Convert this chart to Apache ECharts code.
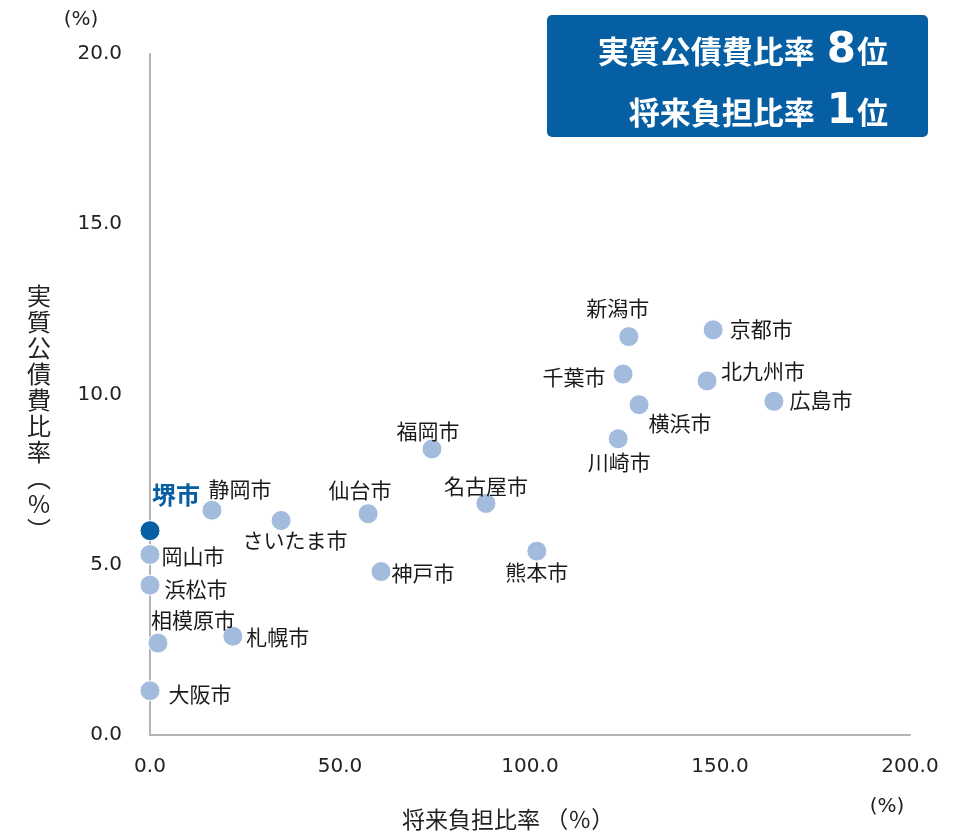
<!DOCTYPE html>
<html>
<head>
<meta charset="utf-8">
<script src="https://cdn.jsdelivr.net/npm/echarts@6/dist/echarts.min.js"></script>
<style>
  html, body { margin: 0; padding: 0; background: #fff; }
  #chart { width: 955px; height: 834px; }
</style>
</head>
<body>
<div id="chart"></div>
<script>
// 都市名・将来負担比率(x)・実質公債費比率(y)
const cities = ['堺市', '岡山市', '浜松市', '相模原市', '大阪市', '静岡市', '札幌市', 'さいたま市', '仙台市', '神戸市',
  '福岡市', '名古屋市', '熊本市', '川崎市', '千葉市', '新潟市', '横浜市', '北九州市', '京都市', '広島市']
const futureBurden = [0.0, 0.0, 0.0, 2.1, 0.0, 16.3, 21.8, 34.5, 57.4, 60.8,
  74.2, 88.4, 101.8, 123.2, 124.5, 126.0, 128.7, 146.6, 148.2, 164.2]
const debtService = [6.0, 5.3, 4.4, 2.7, 1.3, 6.6, 2.9, 6.3, 6.5, 4.8,
  8.4, 6.8, 5.4, 8.7, 10.6, 11.7, 9.7, 10.4, 11.9, 9.8]

const xTicks = [0, 50, 100, 150, 200]
const yTicks = [0, 5, 10, 15, 20]

// ラベルのずらし量 (点の中心から)
const labelOffset = {
  '堺市': [26, -36], '岡山市': [43, 1], '浜松市': [46, 4], '相模原市': [35, -23], '大阪市': [50, 3],
  '静岡市': [28, -21], '札幌市': [45, 1], 'さいたま市': [14, 20], '仙台市': [-8, -24], '神戸市': [42, 1],
  '福岡市': [-4, -18], '名古屋市': [0, -17], '熊本市': [0, 21], '川崎市': [1, 23], '千葉市': [-49, 3],
  '新潟市': [-11, -29], '横浜市': [41, 18], '北九州市': [56, -10], '京都市': [48, -1], '広島市': [47, -1]
}

const FONT = '"Noto Sans CJK JP", "Noto Sans", sans-serif'
const NUM_FONT = '"DejaVu Sans", sans-serif'
const HL = '#065fa3'

const points = cities.map((name, i) => {
  const isSakai = name === '堺市'
  return {
    name,
    value: [futureBurden[i], debtService[i]],
    itemStyle: { color: isSakai ? HL : '#a3bcdd' },
    label: {
      offset: labelOffset[name],
      color: isSakai ? HL : '#1a1a1a',
      fontSize: isSakai ? 24 : 21,
      fontWeight: isSakai ? 'bold' : 'normal'
    }
  }
})

const boxRich = {
  a: { fontFamily: FONT, fontSize: 31, fontWeight: 'bold', fill: '#fff' },
  b: { fontFamily: NUM_FONT, fontSize: 42, fontWeight: 'bold', fill: '#fff', padding: [0, 1, 0, 12] }
}

const chart = echarts.init(document.getElementById('chart'))
chart.setOption({
  animation: false,
  textStyle: { fontFamily: FONT },
  grid: { left: 150, right: 45, top: 54, bottom: 99 },
  xAxis: {
    type: 'value', min: 0, max: 200, interval: 50,
    axisLine: { show: true, lineStyle: { color: '#b4b4b4', width: 2 } },
    axisTick: { show: false },
    splitLine: { show: false },
    axisLabel: {
      margin: 22, fontSize: 20, color: '#222', fontFamily: NUM_FONT,
      formatter: (v) => xTicks.includes(v) ? v.toFixed(1) : ''
    }
  },
  yAxis: {
    type: 'value', min: 0, max: 20, interval: 5,
    axisLine: { show: true, lineStyle: { color: '#b4b4b4', width: 2 } },
    axisTick: { show: false },
    splitLine: { show: false },
    axisLabel: {
      margin: 28, fontSize: 20, color: '#222', fontFamily: NUM_FONT,
      formatter: (v) => yTicks.includes(v) ? v.toFixed(1) : ''
    }
  },
  series: [{
    type: 'scatter',
    symbolSize: 20,
    itemStyle: { borderColor: '#fff', borderWidth: 1, opacity: 1 },
    label: {
      show: true,
      position: 'inside',
      align: 'center',
      verticalAlign: 'middle',
      fontFamily: FONT,
      formatter: (p) => p.name
    },
    emphasis: { disabled: true },
    data: points
  }],
  graphic: [
    { type: 'text', x: 81, y: 20, style: { text: '(%)', font: '20px ' + NUM_FONT, fill: '#222', align: 'center', verticalAlign: 'middle' } },
    { type: 'text', x: 887, y: 807, style: { text: '(%)', font: '20px ' + NUM_FONT, fill: '#222', align: 'center', verticalAlign: 'middle' } },
    {
      type: 'text', x: 402, y: 819,
      style: { text: '将来負担比率 （％）', font: '23px ' + FONT, fill: '#222', align: 'left', verticalAlign: 'middle' }
    },
    {
      type: 'text', x: 39, y: 283,
      style: {
        text: '実\n質\n公\n債\n費\n比\n率\n︵\n%\n︶',
        font: '24px ' + FONT, fill: '#222', align: 'center', verticalAlign: 'top', lineHeight: 26
      }
    },
    {
      type: 'rect', shape: { x: 547, y: 15, width: 381, height: 122, r: 5 },
      style: { fill: HL }
    },
    {
      type: 'text', x: 888, y: 51,
      style: {
        text: '{a|実質公債費比率}{b|8}{a|位}',
        fill: '#fff', align: 'right', verticalAlign: 'middle', rich: boxRich
      }
    },
    {
      type: 'text', x: 888, y: 112,
      style: {
        text: '{a|将来負担比率}{b|1}{a|位}',
        fill: '#fff', align: 'right', verticalAlign: 'middle', rich: boxRich
      }
    }
  ]
})
</script>
</body>
</html>
